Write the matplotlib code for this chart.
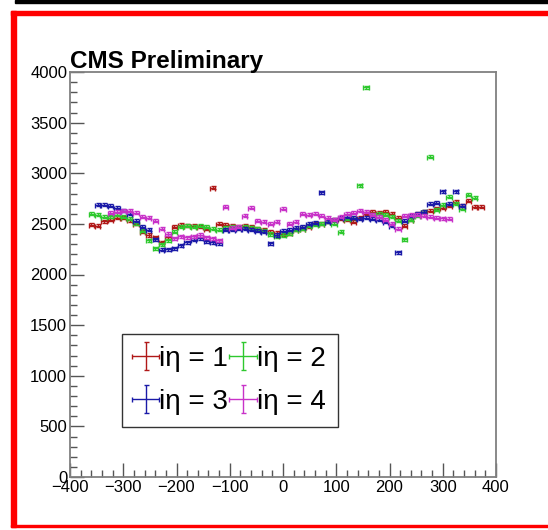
import numpy as np
import matplotlib
matplotlib.use('Agg')
import matplotlib.pyplot as plt
from matplotlib.patches import Rectangle

plt.rcParams['font.family'] = ['Liberation Sans', 'DejaVu Sans']

# bin centres (common grid), nan where a ring has no point
x_bins = np.arange(-360, 373, 12)
nan = np.nan

y_ieta1 = [2490, 2480, 2525, 2540, 2560, 2560, 2535, 2500, 2420, 2390,
           2370, 2320, 2370, 2470, 2490, 2480, 2480, 2470, 2450, 2855,
           2500, 2490, 2480, 2470, 2480, 2470, 2450, 2440, 2420, 2410,
           2400, 2410, 2440, 2450, 2470, 2500, 2500, 2520, 2540, 2550,
           2540, 2520, 2560, 2600, 2620, 2610, 2620, 2600, 2560, 2480,
           2540, 2600, 2620, 2630, 2650, 2660, 2680, 2720, 2680, 2730,
           2670, 2670]
y_ieta2 = [2600, 2590, 2570, 2575, 2590, 2570, 2550, 2505, 2430, 2340,
           2260, 2300, 2340, 2420, 2470, 2480, 2470, 2480, 2470, 2450,
           2440, 2460, 2470, 2460, 2470, 2460, 2450, 2430, 2400, 2380,
           2390, 2410, 2440, 2450, 2480, 2490, 2500, 2520, 2500, 2420,
           2550, 2560, 2880, 3850, 2590, 2600, 2590, 2570, 2530, 2350,
           2540, 2580, 2620, 3165, 2640, 2690, 2770, 2700, 2650, 2790,
           2760, nan]
y_ieta3 = [nan, 2690, 2690, 2680, 2660, 2630, 2600, 2530, 2470, 2440,
           2350, 2245, 2250, 2260, 2290, 2320, 2345, 2360, 2330, 2320,
           2310, 2440, 2440, 2450, 2450, 2440, 2430, 2420, 2310, 2390,
           2430, 2440, 2460, 2470, 2500, 2510, 2810, 2520, 2540, 2560,
           2570, 2560, 2550, 2560, 2550, 2540, 2520, 2480, 2220, 2530,
           2580, 2600, 2620, 2700, 2710, 2820, 2700, 2820, 2680, nan,
           nan, nan]
y_ieta4 = [nan, nan, nan, 2610, 2620, 2630, 2630, 2610, 2570, 2560,
           2530, 2450, 2400, 2360, 2380, 2370, 2380, 2390, 2370, 2360,
           2340, 2670, 2460, 2470, 2580, 2660, 2530, 2520, 2500, 2520,
           2650, 2500, 2520, 2600, 2590, 2600, 2580, 2560, 2540, 2570,
           2600, 2610, 2630, 2620, 2590, 2570, 2540, 2500, 2450, 2580,
           2590, 2590, 2580, 2570, 2560, 2555, 2550, nan, nan, nan,
           nan, nan]

series = [y_ieta1, y_ieta2, y_ieta3, y_ieta4]
labels = ['iη = 1', 'iη = 2', 'iη = 3', 'iη = 4']
colors = ['#b01818', '#2ec82e', '#1a1aa8', '#c832c8']

fig = plt.figure(figsize=(5.48, 5.30), dpi=100)

# canvas decorations (red frame, black strip on top)
fig.patches.append(Rectangle((11/548, 3/530), 5/548, 516/530, transform=fig.transFigure,
                             color='red', zorder=0))
fig.patches.append(Rectangle((11/548, 515/530), 537/548, 4/530, transform=fig.transFigure,
                             color='red', zorder=0))
fig.patches.append(Rectangle((11/548, 3/530), 537/548, 2/530, transform=fig.transFigure,
                             color='red', zorder=0))
fig.patches.append(Rectangle((15/548, 527/530), 533/548, 3/530, transform=fig.transFigure,
                             color='black', zorder=0))

ax = fig.add_axes([70/548, 53/530, 426/548, 405/530])

handles = []
for ys, lab, col in zip(series, labels, colors):
    ys = np.array(ys, dtype=float)
    ok = ~np.isnan(ys)
    h = ax.errorbar(x_bins[ok], ys[ok], xerr=5, yerr=15, fmt='none', ecolor=col,
                    elinewidth=1.0, capsize=1.8, capthick=1.0, label=lab)
    handles.append(h)

ax.set_xlim(-400, 400)
ax.set_ylim(0, 4000)
ax.set_xticks(np.arange(-400, 401, 100))
ax.set_xticks(np.arange(-400, 401, 20), minor=True)
ax.set_yticks(np.arange(0, 4001, 500))
ax.set_yticks(np.arange(0, 4001, 100), minor=True)
ax.tick_params(which='both', direction='in', top=False, right=False,
               labelsize=12, color='#555555', pad=2)
ax.tick_params(which='major', length=10, width=1)
ax.tick_params(which='minor', length=5, width=1)
for s in ax.spines.values():
    s.set_color('#808080')
    s.set_linewidth(1.3)

ax.text(0.0, 0.998, 'CMS Preliminary', transform=ax.transAxes, fontsize=17.5,
        fontweight='bold', ha='left', va='bottom')

# legend filled row by row: 1 2 / 3 4
order = [0, 2, 1, 3]
leg = ax.legend(handles=[handles[i] for i in order], labels=[labels[i] for i in order],
                ncol=2, loc='lower left',
                bbox_to_anchor=(0.122, 0.123, 0.507, 0.26), mode='expand',
                fontsize=20, frameon=True, fancybox=False, edgecolor='black',
                handlelength=0.8, handletextpad=0.1, columnspacing=0.3,
                borderpad=0.45, labelspacing=0.6, borderaxespad=0)
leg.get_frame().set_linewidth(1.0)

fig.savefig('out.png', dpi=100)
